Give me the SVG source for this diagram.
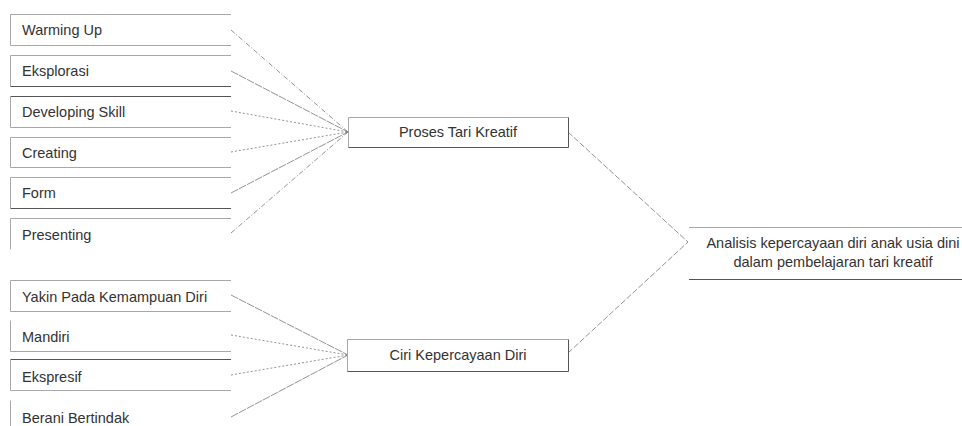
<svg xmlns="http://www.w3.org/2000/svg" width="962" height="426" viewBox="0 0 962 426">
<style>
.t{font-family:"Liberation Sans",Arial,sans-serif;font-size:14.5px;fill:#333}
.c{text-anchor:middle}
.lt{stroke:#a8a8a8;stroke-width:1;fill:none}
.dk{stroke:#555;stroke-width:1;fill:none}
.cn{stroke:#777;stroke-width:0.8;fill:none}
.d1{stroke-dasharray:5,2,1,2}
.d2{stroke-dasharray:8,1}
.d3{stroke-dasharray:2,2}
.d4{stroke-dasharray:6,2}
</style>
<rect width="962" height="426" fill="#fff"/>
<g id="connectors">
<line class="cn d1" x1="231" y1="30" x2="348" y2="132"/>
<line class="cn d2" x1="231" y1="71" x2="348" y2="132"/>
<line class="cn d3" x1="231" y1="111" x2="348" y2="132"/>
<line class="cn d3" x1="231" y1="152" x2="348" y2="132"/>
<line class="cn d2" x1="231" y1="193" x2="348" y2="132"/>
<line class="cn d1" x1="231" y1="233" x2="348" y2="132"/>
<line class="cn d2" x1="231" y1="295" x2="348" y2="355"/>
<line class="cn d3" x1="231" y1="335" x2="348" y2="355"/>
<line class="cn d3" x1="231" y1="375" x2="348" y2="355"/>
<line class="cn d2" x1="231" y1="417" x2="348" y2="355"/>
<line class="cn d4" x1="568" y1="132" x2="688" y2="242"/>
<line class="cn d4" x1="568" y1="353" x2="688" y2="242"/>
</g>
<g id="n-warming">
<path class="lt" d="M231,14.5H10.5V45.5"/><line class="lt" x1="10.5" y1="45.5" x2="231" y2="45.5"/>
<text class="t" x="22" y="35">Warming Up</text>
</g>
<g id="n-eksplorasi">
<path class="lt" d="M231,55.5H10.5V86.5"/><line class="dk" x1="10.5" y1="86.5" x2="231" y2="86.5"/>
<text class="t" x="22" y="76">Eksplorasi</text>
</g>
<g id="n-developing">
<path class="dk" d="M231,96.5H10.5"/><path class="lt" d="M10.5,96.5V127.5H231"/>
<text class="t" x="22" y="117">Developing Skill</text>
</g>
<g id="n-creating">
<path class="lt" d="M231,137.5H10.5V167.5H231"/>
<text class="t" x="22" y="158">Creating</text>
</g>
<g id="n-form">
<path class="lt" d="M231,177.5H10.5V208.5"/><line class="dk" x1="10.5" y1="208.5" x2="231" y2="208.5"/>
<text class="t" x="22" y="198">Form</text>
</g>
<g id="n-presenting">
<path class="lt" d="M231,218.5H10.5V249.5"/>
<text class="t" x="22" y="240">Presenting</text>
</g>
<g id="n-yakin">
<path class="lt" d="M231,280.5H10.5V311.5H231"/>
<text class="t" x="22" y="302">Yakin Pada Kemampuan Diri</text>
</g>
<g id="n-mandiri">
<path class="lt" d="M10.5,320.5V351.5H231"/>
<text class="t" x="22" y="342">Mandiri</text>
</g>
<g id="n-ekspresif">
<path class="dk" d="M231,359.5H10.5"/><path class="lt" d="M10.5,359.5V390.5H231"/>
<text class="t" x="22" y="382">Ekspresif</text>
</g>
<g id="n-berani">
<path class="lt" d="M10.5,400.5V426"/>
<text class="t" x="22" y="423">Berani Bertindak</text>
</g>
<g id="n-proses">
<path class="lt" d="M348.5,147.5V117.5H568.5"/><path class="dk" d="M568.5,117.5V147.5H348.5"/>
<text class="t c" x="458" y="137">Proses Tari Kreatif</text>
</g>
<g id="n-ciri">
<path class="lt" d="M347.5,371.5V339.5H568.5"/><path class="dk" d="M568.5,339.5V371.5H347.5"/>
<text class="t c" x="458" y="360">Ciri Kepercayaan Diri</text>
</g>
<g id="n-analisis">
<line class="lt" x1="689" y1="227.5" x2="962" y2="227.5"/><line class="dk" x1="689" y1="279.5" x2="962" y2="279.5"/>
<text class="t c" x="833" y="248">Analisis kepercayaan diri anak usia dini</text>
<text class="t c" x="833" y="267">dalam pembelajaran tari kreatif</text>
</g>
</svg>
